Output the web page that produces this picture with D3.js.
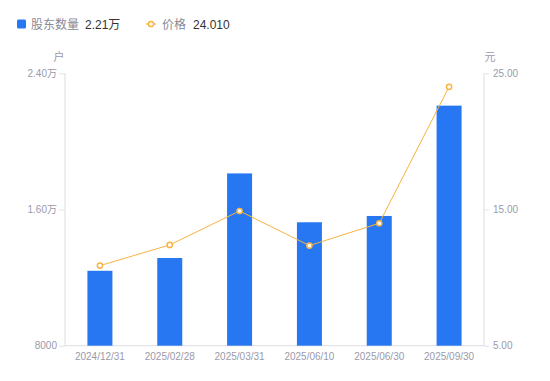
<!DOCTYPE html>
<html><head><meta charset="utf-8">
<script src="https://cdn.jsdelivr.net/npm/d3@7/dist/d3.min.js"></script>
<style>body{margin:0;background:#fff;font-family:"Liberation Sans","Noto Sans CJK SC",sans-serif}
svg text{font-family:"Liberation Sans","Noto Sans CJK SC",sans-serif}</style>
</head><body><svg id="c" width="550" height="381"></svg>
<script>
const categories = ["2024/12/31","2025/02/28","2025/03/31","2025/06/10","2025/06/30","2025/09/30"];
const holders = [12400, 13150, 18120, 15250, 15620, 22100];
const prices = [10.88, 12.40, 14.89, 12.35, 13.99, 24.01];
const leftTicks = [8000, 16000, 24000];
const leftTickLabels = ["8000", "1.60万", "2.40万"];
const rightTicks = [5, 15, 25];
const rightTickLabels = ["5.00", "15.00", "25.00"];
const legendHolders = "2.21万";
const legendPrice = "24.010";

const svg = d3.select("#c");
const L = 65, R = 484, T = 73.3, B = 345.7;
const tickColor = "#9a9aaa", axisColor = "#e3e3e8";
const blue = "#2777f3", orange = "#f8b340";
const ff = "'Liberation Sans','Noto Sans CJK SC',sans-serif";

const x = d3.scaleBand().domain(categories).range([L, R]);
const yL = d3.scaleLinear().domain([8000, 24000]).range([B, T]);
const yR = d3.scaleLinear().domain([5, 25]).range([B, T]);

// axes
const gl = svg.append("g").attr("transform", `translate(${L},0)`)
  .call(d3.axisLeft(yL).tickValues(leftTicks).tickFormat((d,i)=>leftTickLabels[i]).tickSize(6).tickPadding(2));
const gr = svg.append("g").attr("transform", `translate(${R},0)`)
  .call(d3.axisRight(yR).tickValues(rightTicks).tickFormat((d,i)=>rightTickLabels[i]).tickSize(5).tickPadding(4));
const gb = svg.append("g").attr("transform", `translate(0,${B})`)
  .call(d3.axisBottom(x).tickSize(0).tickPadding(7));
[gl, gr, gb].forEach(g => {
  g.attr("font-family", ff);
  g.select(".domain").attr("stroke", axisColor).attr("stroke-width", 1.2);
  g.selectAll(".tick line").attr("stroke", axisColor);
  g.selectAll(".tick text").attr("fill", tickColor).style("font-size", "10px").style("font-family", ff);
});
gl.select(".domain").attr("d", `M0,${T}V${B}`);
gr.select(".domain").attr("d", `M0,${T}V${B}`);
gb.select(".domain").attr("d", `M${L},0H${R}`);

// unit labels
svg.append("text").attr("x", 59).attr("y", 61).attr("text-anchor", "middle")
  .attr("fill", tickColor).style("font-size", "11px").text("户");
svg.append("text").attr("x", 490).attr("y", 61).attr("text-anchor", "middle")
  .attr("fill", tickColor).style("font-size", "11px").text("元");

// bars
const bw = 25;
svg.append("g").selectAll("rect").data(holders).join("rect")
  .attr("x", (d,i) => x(categories[i]) + x.bandwidth()/2 - bw/2)
  .attr("width", bw)
  .attr("y", d => yL(d))
  .attr("height", d => B - yL(d))
  .attr("fill", blue);

// line
const line = d3.line().x((d,i) => x(categories[i]) + x.bandwidth()/2).y(d => yR(d));
svg.append("path").datum(prices).attr("d", line).attr("fill", "none")
  .attr("stroke", orange).attr("stroke-width", 1);
svg.append("g").selectAll("circle").data(prices).join("circle")
  .attr("cx", (d,i) => x(categories[i]) + x.bandwidth()/2)
  .attr("cy", d => yR(d)).attr("r", 2.6)
  .attr("fill", "#fff").attr("stroke", orange).attr("stroke-width", 1.5);

// legend
const lg = svg.append("g").style("font-size", "12px");
lg.append("rect").attr("x", 17).attr("y", 19.5).attr("width", 9).attr("height", 9).attr("rx", 1.5).attr("fill", blue);
lg.append("text").attr("x", 31).attr("y", 29).attr("fill", "#8a8a96").text("股东数量");
lg.append("text").attr("x", 85).attr("y", 29).attr("fill", "#333").text(legendHolders);
lg.append("line").attr("x1", 146).attr("x2", 156).attr("y1", 24).attr("y2", 24).attr("stroke", orange).attr("stroke-width", 1.2);
lg.append("circle").attr("cx", 151).attr("cy", 24).attr("r", 2.6).attr("fill", "#fff").attr("stroke", orange).attr("stroke-width", 1.5);
lg.append("text").attr("x", 162).attr("y", 29).attr("fill", "#8a8a96").text("价格");
lg.append("text").attr("x", 193).attr("y", 29).attr("fill", "#333").text(legendPrice);
</script></body></html>
